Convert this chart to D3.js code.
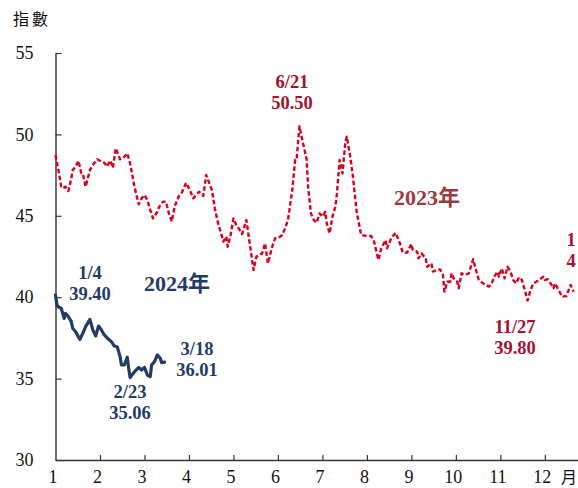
<!DOCTYPE html>
<html>
<head>
<meta charset="utf-8">
<script src="https://cdn.jsdelivr.net/npm/d3@7"></script>
<style>
  html, body { margin: 0; padding: 0; background: #fff; overflow: hidden; }
  svg { display: block; }
</style>
</head>
<body>
<svg id="chart" width="578" height="488"></svg>
<script>
// Index series, plotted by day of year
const days2023 = [2, 4, 6, 7, 9, 11, 13, 14, 16, 18, 20, 21, 23, 26, 28, 31, 34, 36, 38, 40, 42, 44, 47, 50, 52, 54, 57, 60, 62, 64, 66, 68, 70, 73, 74, 77, 79, 81, 83, 85, 88, 90, 93, 96, 98, 100, 102, 105, 107, 111, 113, 115, 118, 119, 121, 122, 124, 126, 128, 129, 131, 132, 135, 136, 138, 140, 142, 144, 146, 148, 150, 153, 155, 157, 160, 162, 164, 167, 169, 170, 172, 174, 177, 178, 180, 182, 184, 186, 188, 190, 191, 193, 195, 197, 198, 200, 202, 204, 205, 207, 209, 212, 213, 215, 219, 222, 224, 227, 229, 232, 233, 236, 239, 242, 244, 247, 250, 251, 254, 255, 257, 260, 261, 264, 265, 268, 270, 272, 273, 275, 277, 278, 280, 282, 283, 285, 287, 290, 293, 295, 297, 300, 304, 306, 308, 310, 311, 313, 315, 317, 319, 321, 323, 325, 327, 331, 333, 335, 337, 339, 342, 343, 345, 347, 349, 350, 352, 355, 358, 361, 363];
const values2023 = [48.73, 47.81, 46.79, 46.69, 46.79, 46.52, 47.30, 47.81, 48.02, 48.38, 47.61, 47.61, 46.79, 47.81, 48.12, 48.47, 48.33, 48.26, 48.02, 48.40, 47.95, 49.15, 48.47, 48.63, 48.84, 48.22, 46.79, 45.71, 46.07, 46.28, 45.97, 45.36, 44.84, 45.25, 45.52, 45.87, 45.87, 45.15, 44.64, 45.56, 46.22, 46.42, 47.03, 46.50, 46.07, 46.28, 46.48, 46.22, 47.51, 46.58, 45.46, 44.64, 43.72, 43.41, 43.72, 43.10, 43.82, 44.84, 44.43, 44.33, 44.02, 43.88, 44.74, 44.13, 42.90, 41.67, 42.49, 42.59, 42.69, 43.31, 42.08, 43.10, 43.62, 43.62, 43.82, 44.23, 44.74, 46.58, 48.43, 48.43, 50.50, 49.66, 48.47, 46.79, 45.15, 44.74, 44.58, 45.15, 44.95, 45.25, 44.54, 43.92, 44.95, 45.56, 46.28, 48.43, 47.60, 49.55, 49.86, 48.84, 47.61, 45.15, 44.74, 43.82, 43.76, 43.76, 43.41, 42.29, 43.00, 43.51, 43.00, 43.62, 43.96, 43.31, 42.74, 42.74, 43.27, 42.90, 42.80, 42.39, 42.69, 42.39, 41.87, 42.08, 41.57, 41.67, 41.71, 41.36, 40.34, 40.95, 40.95, 41.47, 41.06, 40.95, 40.55, 41.47, 41.36, 41.47, 42.33, 41.67, 41.06, 40.85, 40.65, 40.85, 41.30, 41.57, 41.26, 41.77, 41.16, 41.87, 41.57, 41.06, 40.85, 41.22, 41.06, 39.80, 40.44, 40.85, 40.95, 41.06, 41.26, 41.06, 41.10, 40.85, 40.55, 40.85, 40.55, 40.03, 40.07, 40.75, 40.34];

const days2024 = [2, 3, 4, 6, 8, 9, 11, 13, 14, 16, 19, 21, 23, 26, 28, 30, 32, 34, 36, 39, 41, 43, 45, 47, 48, 50, 52, 53, 54, 57, 60, 62, 64, 66, 68, 69, 71, 73, 75, 76, 78];
const values2024 = [40.14, 39.52, 39.40, 39.32, 38.70, 39.01, 38.80, 38.50, 38.09, 37.88, 37.41, 37.78, 38.19, 38.64, 37.99, 37.62, 38.23, 37.99, 37.68, 37.41, 37.27, 37.00, 36.96, 36.35, 35.84, 35.84, 36.31, 35.63, 35.06, 35.42, 35.69, 35.53, 35.69, 35.22, 35.12, 35.84, 36.04, 36.45, 36.25, 35.98, 36.01];

const monthLabels = ["1", "2", "3", "4", "5", "6", "7", "8", "9", "10", "11", "12"];
const yTicks = [30, 35, 40, 45, 50, 55];

// Callouts: two lines each, date over value
const callouts2023 = [
  { lines: ["6/21", "50.50"], x: 292, y: 88 },
  { lines: ["11/27", "39.80"], x: 515, y: 333 },
  { lines: ["1", "4"], x: 571, y: 246 }
];
const callouts2024 = [
  { lines: ["1/4", "39.40"], x: 90, y: 279 },
  { lines: ["2/23", "35.06"], x: 130, y: 398 },
  { lines: ["3/18", "36.01"], x: 197, y: 355 }
];

const red = "#d8001c";
const redText = "#a6102f";
const navy = "#223c66";
const axisColor = "#333";

const svg = d3.select("#chart");

const x = d3.scaleLinear().domain([2, 367]).range([55.5, 55.5 + 365 * 1.435]);
const y = d3.scaleLinear().domain([30, 55]).range([460, 53]);

// y axis, ticks pointing inward
const yAxis = svg.append("g")
  .attr("transform", `translate(${x.range()[0]},0)`)
  .call(d3.axisLeft(y).tickValues(yTicks).tickSizeInner(-6).tickSizeOuter(0).tickPadding(22));
yAxis.select(".domain").attr("stroke", axisColor).attr("stroke-width", 1.4);
yAxis.selectAll(".tick line").attr("stroke", axisColor).attr("stroke-width", 1.2);
yAxis.selectAll(".tick text")
  .attr("font-family", "'Liberation Serif', 'Times New Roman', serif")
  .attr("font-size", 18).attr("fill", "#111");

// x axis: tick marks every 31 days, pointing up
const tickDays = d3.range(1, 12).map(k => 2 + 31 * k);
const xAxis = svg.append("g")
  .attr("transform", `translate(0,${y(30)})`)
  .call(d3.axisBottom(x).tickValues(tickDays).tickSizeInner(-5).tickSizeOuter(0).tickFormat(""));
xAxis.select(".domain").attr("stroke", axisColor).attr("stroke-width", 1.4);
xAxis.selectAll(".tick line").attr("stroke", axisColor).attr("stroke-width", 1.2);

// month labels
const labelDays = monthLabels.map((m, k) => 2 + 31 * k);
const xLabels = svg.append("g")
  .attr("transform", `translate(0,${y(30)})`)
  .call(d3.axisBottom(x).tickValues(labelDays).tickSize(0).tickPadding(10)
    .tickFormat((d, i) => monthLabels[i]));
xLabels.select(".domain").remove();
xLabels.selectAll(".tick text")
  .attr("dx", -3)
  .attr("font-family", "'Liberation Serif', 'Times New Roman', serif")
  .attr("font-size", 18).attr("fill", "#111");

svg.append("text")
  .attr("x", 569).attr("y", 483)
  .attr("text-anchor", "middle")
  .attr("font-family", "'Noto Sans CJK TC', sans-serif")
  .attr("font-size", 16).attr("fill", "#111")
  .text("月");

svg.append("text")
  .attr("x", 13).attr("y", 25)
  .attr("font-family", "'Noto Sans CJK TC', sans-serif")
  .attr("font-size", 16).attr("letter-spacing", 3).attr("fill", "#111")
  .text("指數");

// series lines
const line = d3.line().x(d => x(d[0])).y(d => y(d[1]));

svg.append("path")
  .datum(d3.zip(days2023, values2023))
  .attr("fill", "none")
  .attr("stroke", red)
  .attr("stroke-width", 2.4)
  .attr("stroke-dasharray", "4.5,2.5")
  .attr("stroke-linejoin", "round")
  .attr("d", line);

svg.append("path")
  .datum(d3.zip(days2024, values2024))
  .attr("fill", "none")
  .attr("stroke", navy)
  .attr("stroke-width", 3.2)
  .attr("stroke-linejoin", "round")
  .attr("stroke-linecap", "round")
  .attr("d", line);

// callout labels
const serifBold = "'Liberation Serif', 'Times New Roman', serif";
function callout(c, color) {
  const t = svg.append("text")
    .attr("x", c.x).attr("y", c.y)
    .attr("text-anchor", "middle")
    .attr("font-family", serifBold)
    .attr("font-weight", "bold")
    .attr("font-size", 18.5)
    .attr("fill", color);
  c.lines.forEach((s, i) => {
    t.append("tspan").attr("x", c.x).attr("dy", i ? 21 : 0).text(s);
  });
}
callouts2023.forEach(c => callout(c, redText));
callouts2024.forEach(c => callout(c, navy));

// year captions
svg.append("text")
  .attr("x", 427).attr("y", 205)
  .attr("text-anchor", "middle")
  .attr("font-family", "'Liberation Serif', 'Noto Sans CJK TC', serif")
  .attr("font-weight", "bold").attr("font-size", 22)
  .attr("fill", "#9a3a3a")
  .text("2023年");

svg.append("text")
  .attr("x", 177).attr("y", 291)
  .attr("text-anchor", "middle")
  .attr("font-family", "'Liberation Serif', 'Noto Sans CJK TC', serif")
  .attr("font-weight", "bold").attr("font-size", 22)
  .attr("fill", navy)
  .text("2024年");
</script>
</body>
</html>
